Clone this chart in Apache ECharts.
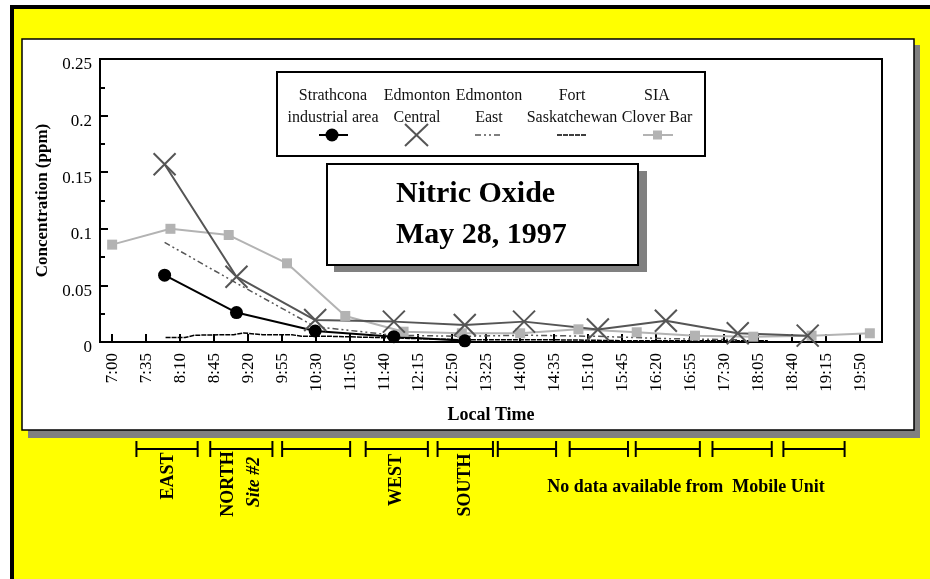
<!DOCTYPE html>
<html>
<head>
<meta charset="utf-8">
<title>Nitric Oxide - May 28, 1997</title>
<script src="https://cdn.jsdelivr.net/npm/echarts@6/dist/echarts.min.js"></script>
<style>
  html, body { margin: 0; padding: 0; background: #fff; }
  #main { width: 930px; height: 579px; }
</style>
</head>
<body>
<div id="main"></div>
<script>
const tickLabels = ["7:00", "7:35", "8:10", "8:45", "9:20", "9:55", "10:30", "11:05", "11:40",
  "12:15", "12:50", "13:25", "14:00", "14:35", "15:10", "15:45", "16:20", "16:55", "17:30",
  "18:05", "18:40", "19:15", "19:50"];

const seriesNames = ["Strathcona\nindustrial area", "Edmonton\nCentral", "Edmonton\nEast",
  "Fort\nSaskatchewan", "SIA\nClover Bar"];

// station points share these times
const stationTimes = ["7:54", "9:08", "10:29", "11:50", "13:03", "14:04", "15:20", "16:30", "17:44", "18:56"];
const strathcona = [0.059, 0.026, 0.0097, 0.0047, 0.001];
const edmCentral = [0.157, 0.0577, 0.0194, 0.018, 0.015, 0.018, 0.011, 0.0188, 0.0077, 0.0056];
const edmEast = [0.088, 0.052, 0.0135, 0.006, 0.005, 0.006, 0.005, 0.003, 0.002];

const fortTimes = ["7:55", "8:15", "8:25", "9:05", "9:15", "9:35", "10:05", "10:15", "10:45", "11:30",
  "12:15", "13:00", "13:45", "14:30", "15:15", "16:00", "16:45", "17:30", "18:15"];
const fortSask = [0.004, 0.004, 0.006, 0.0065, 0.008, 0.0065, 0.0065, 0.005, 0.005, 0.004,
  0.003, 0.002, 0.002, 0.002, 0.0015, 0.001, 0.001, 0.001, 0.001];

const siaTimes = ["7:00", "8:00", "9:00", "10:00", "11:00", "12:00", "13:00", "14:00", "15:00",
  "16:00", "17:00", "18:00", "19:00", "20:00"];
const siaCloverBar = [0.086, 0.1, 0.0945, 0.0695, 0.023, 0.0091, 0.0077, 0.0077, 0.0112,
  0.0086, 0.0056, 0.0047, 0.0056, 0.0077];

// mobile unit runs drawn under the chart
const mobileRuns = [["7:25", "8:28"], ["8:41", "9:45"], ["9:55", "11:05"], ["11:21", "12:25"],
  ["12:35", "13:32"], ["13:37", "14:37"], ["14:51", "15:51"], ["15:59", "17:05"],
  ["17:18", "18:19"], ["18:31", "19:34"]];

const toMin = (s) => {
  const [h, m] = s.split(":").map(Number);
  return h * 60 + m;
};
const fmtTime = (v) => Math.floor(v / 60) + ":" + String(v % 60).padStart(2, "0");
const pairs = (times, vals) => vals.map((v, i) => [toMin(times[i]), v]);

const serif = "'Liberation Serif', 'Times New Roman', serif";
const tickMins = tickLabels.map(toMin);
const xMin = 407.5;
const xMax = 1212.5;

// legend drawn by hand: name on top, sample below
const legendX = [333, 417, 489, 572, 657];
const legendItems = [];
seriesNames.forEach((name, i) => {
  legendItems.push({
    type: "text", x: legendX[i], y: 107, z: 11,
    style: { text: name, font: "16px " + serif, fill: "#111", align: "center",
      verticalAlign: "middle", lineHeight: 22 }
  });
});
const ly = 135;
legendItems.push(
  { type: "line", z: 11, shape: { x1: 319, y1: ly, x2: 348, y2: ly }, style: { stroke: "#000", lineWidth: 2 } },
  { type: "circle", z: 12, shape: { cx: 332, cy: ly, r: 6.5 }, style: { fill: "#000" } },
  { type: "line", z: 11, shape: { x1: 405, y1: ly - 11, x2: 428, y2: ly + 11 }, style: { stroke: "#555", lineWidth: 2 } },
  { type: "line", z: 11, shape: { x1: 405, y1: ly + 11, x2: 428, y2: ly - 11 }, style: { stroke: "#555", lineWidth: 2 } },
  { type: "line", z: 11, shape: { x1: 475, y1: ly, x2: 502, y2: ly }, style: { stroke: "#555", lineWidth: 1.5, lineDash: [6, 3, 2, 3, 2, 3] } },
  { type: "line", z: 11, shape: { x1: 557, y1: ly, x2: 586, y2: ly }, style: { stroke: "#000", lineWidth: 1.5, lineDash: [5, 1] } },
  { type: "line", z: 11, shape: { x1: 643, y1: ly, x2: 673, y2: ly }, style: { stroke: "#b3b3b3", lineWidth: 2 } },
  { type: "rect", z: 12, shape: { x: 653, y: ly - 4.5, width: 9, height: 9 }, style: { fill: "#b3b3b3" } }
);

const areaLabel = (text, x, y, font) => ({
  type: "text", x: x, y: y, rotation: Math.PI / 2, z: 5,
  style: { text: text, font: font, fill: "#000", align: "center", verticalAlign: "middle" }
});

const chart = echarts.init(document.getElementById("main"));

const option = {
  animation: false,
  backgroundColor: "#fff",
  graphic: {
    elements: [
      { type: "rect", z: -20, shape: { x: 10, y: 5, width: 920, height: 574 }, style: { fill: "#000" } },
      { type: "rect", z: -19, shape: { x: 14, y: 9, width: 916, height: 570 }, style: { fill: "#ffff00" } },
      { type: "rect", z: -18, shape: { x: 28, y: 45, width: 892, height: 393 }, style: { fill: "#808080" } },
      { type: "rect", z: -17, shape: { x: 22, y: 39, width: 892, height: 391 }, style: { fill: "#fff", stroke: "#000", lineWidth: 1.5 } },
      // legend box
      { type: "rect", z: 10, shape: { x: 277, y: 72, width: 428, height: 84 }, style: { fill: "#fff", stroke: "#000", lineWidth: 2 } },
      ...legendItems,
      // title box with shadow
      { type: "rect", z: 10, shape: { x: 334, y: 171, width: 313, height: 101 }, style: { fill: "#808080" } },
      { type: "rect", z: 11, shape: { x: 327, y: 164, width: 311, height: 101 }, style: { fill: "#fff", stroke: "#000", lineWidth: 2 } },
      {
        type: "text", x: 396, y: 215, z: 12,
        style: { text: "Nitric Oxide\nMay 28, 1997", font: "bold 30px " + serif, fill: "#000",
          align: "left", verticalAlign: "middle", lineHeight: 41 }
      },
      // notes under the panel
      areaLabel("EAST", 168, 476, "bold 18px " + serif),
      areaLabel("NORTH", 228, 484, "bold 18px " + serif),
      areaLabel("Site #2", 254, 482, "italic bold 18px " + serif),
      areaLabel("WEST", 396, 480, "bold 18px " + serif),
      areaLabel("SOUTH", 465, 485, "bold 18px " + serif),
      {
        type: "text", x: 686, y: 487, z: 5,
        style: { text: "No data available from  Mobile Unit", font: "bold 18px " + serif, fill: "#000",
          align: "center", verticalAlign: "middle" }
      }
    ]
  },
  grid: [
    { left: 100, top: 59, width: 782, height: 283, show: true, borderColor: "#000", borderWidth: 2,
      backgroundColor: "transparent" },
    { left: 100, top: 441, width: 782, height: 16 }
  ],
  xAxis: [
    {
      type: "value", min: xMin, max: xMax,
      name: "Local Time", nameLocation: "middle", nameGap: 64,
      nameTextStyle: { fontFamily: serif, fontWeight: "bold", fontSize: 18, color: "#000" },
      splitLine: { show: false },
      axisLine: { show: true, lineStyle: { color: "#000", width: 2 } },
      axisTick: { show: true, inside: true, length: 8, customValues: tickMins, lineStyle: { color: "#000", width: 2 } },
      axisLabel: { rotate: 90, margin: 11, fontFamily: serif, fontSize: 17, color: "#000",
        customValues: tickMins, formatter: (v) => fmtTime(v) }
    },
    { type: "value", gridIndex: 1, min: xMin, max: xMax, show: false }
  ],
  yAxis: [
    {
      type: "value", min: 0, max: 0.25, interval: 0.05,
      name: "Concentration (ppm)", nameLocation: "middle", nameRotate: 90, nameGap: 49,
      nameTextStyle: { fontFamily: serif, fontWeight: "bold", fontSize: 17, color: "#000" },
      splitLine: { show: false },
      axisLine: { show: true, lineStyle: { color: "#000", width: 2 } },
      axisTick: { show: true, inside: true, length: 8, lineStyle: { color: "#000", width: 2 } },
      minorTick: { show: true, splitNumber: 2, length: 5, lineStyle: { color: "#000", width: 2 } },
      axisLabel: { margin: 8, fontFamily: serif, fontSize: 17, color: "#000",
        verticalAlign: "top", lineHeight: 12 }
    },
    { type: "value", gridIndex: 1, min: 0, max: 1, show: false }
  ],
  series: [
    {
      name: seriesNames[3], type: "line", data: pairs(fortTimes, fortSask),
      symbol: "none", lineStyle: { color: "#000", width: 1.5, type: [5, 1] }
    },
    {
      name: seriesNames[2], type: "line", data: pairs(stationTimes, edmEast),
      symbol: "none", lineStyle: { color: "#555", width: 1.5, type: [6, 3, 2, 3, 2, 3] }
    },
    {
      name: seriesNames[4], type: "line", data: pairs(siaTimes, siaCloverBar),
      symbol: "rect", symbolSize: 10, itemStyle: { color: "#b3b3b3" },
      lineStyle: { color: "#b3b3b3", width: 2 }
    },
    {
      name: seriesNames[1], type: "line", data: pairs(stationTimes, edmCentral),
      symbol: "path://M0,0L10,10M10,0L0,10", symbolSize: 22,
      itemStyle: { color: "#555", borderColor: "#555", borderWidth: 2 },
      lineStyle: { color: "#555", width: 2 }
    },
    {
      name: seriesNames[0], type: "line", data: pairs(stationTimes, strathcona),
      symbol: "circle", symbolSize: 13, itemStyle: { color: "#000" },
      lineStyle: { color: "#000", width: 2 }
    },
    {
      type: "custom", xAxisIndex: 1, yAxisIndex: 1, silent: true, clip: false,
      data: mobileRuns.map((r) => [toMin(r[0]), toMin(r[1]), 0.5]),
      encode: { x: [0, 1], y: 2 },
      renderItem: (params, api) => {
        const a = api.coord([api.value(0), api.value(2)]);
        const b = api.coord([api.value(1), api.value(2)]);
        const st = { stroke: "#000", lineWidth: 2 };
        return {
          type: "group",
          children: [
            { type: "line", shape: { x1: a[0], y1: a[1], x2: b[0], y2: b[1] }, style: st },
            { type: "line", shape: { x1: a[0], y1: a[1] - 8, x2: a[0], y2: a[1] + 8 }, style: st },
            { type: "line", shape: { x1: b[0], y1: b[1] - 8, x2: b[0], y2: b[1] + 8 }, style: st }
          ]
        };
      }
    }
  ]
};

chart.setOption(option);
</script>
</body>
</html>
